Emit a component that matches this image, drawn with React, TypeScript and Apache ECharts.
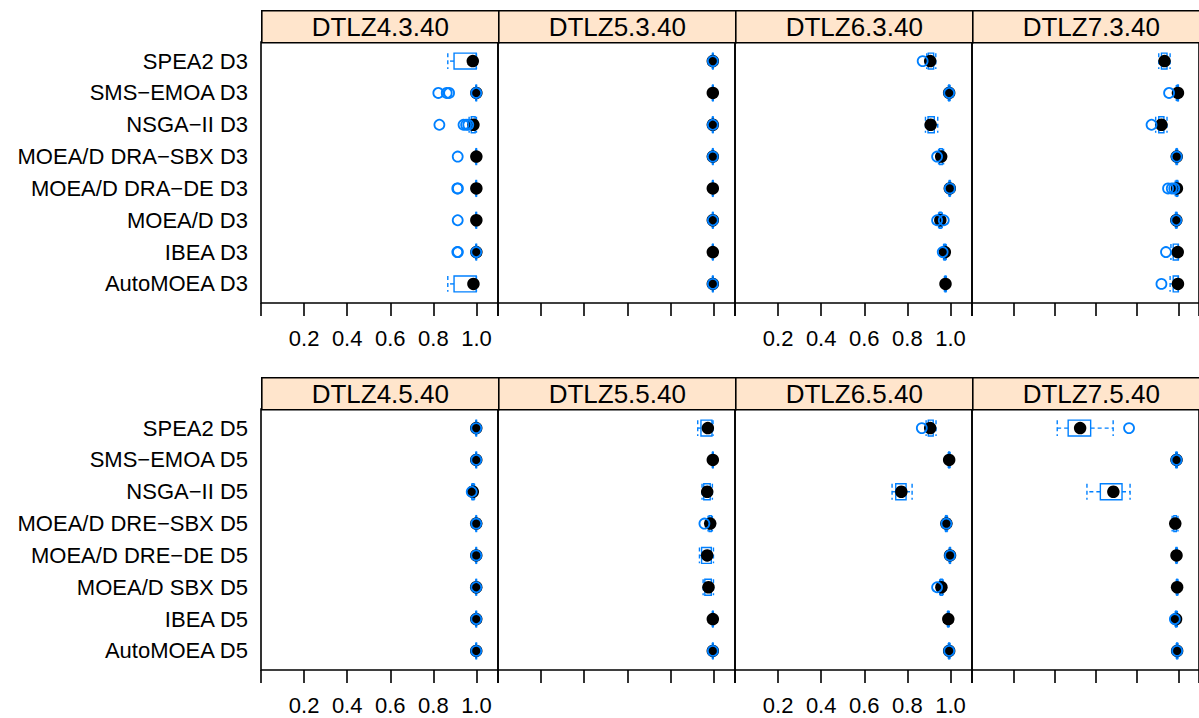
import React, { useEffect, useRef } from "react";
import * as echarts from "echarts";

// ---------- DATA ----------
const algorithmsD3 = [
  "SPEA2 D3",
  "SMS−EMOA D3",
  "NSGA−II D3",
  "MOEA/D DRA−SBX D3",
  "MOEA/D DRA−DE D3",
  "MOEA/D D3",
  "IBEA D3",
  "AutoMOEA D3",
];
const algorithmsD5 = [
  "SPEA2 D5",
  "SMS−EMOA D5",
  "NSGA−II D5",
  "MOEA/D DRE−SBX D5",
  "MOEA/D DRE−DE D5",
  "MOEA/D SBX D5",
  "IBEA D5",
  "AutoMOEA D5",
];
const problemsTop = ["DTLZ4.3.40", "DTLZ5.3.40", "DTLZ6.3.40", "DTLZ7.3.40"];
const problemsBottom = ["DTLZ4.5.40", "DTLZ5.5.40", "DTLZ6.5.40", "DTLZ7.5.40"];
const xTickValues = [0, 0.2, 0.4, 0.6, 0.8, 1.0, 1.1];
const xTickLabels = [0.2, 0.4, 0.6, 0.8, 1.0];

// stats rows: [lower whisker, Q1, median, Q3, upper whisker]
const dtlz4_3_stats = [
  [0.867, 0.896, 0.983, 0.999, 1.0],
  [0.997, 0.998, 0.9995, 1.0, 1.0],
  [0.966, 0.976, 0.986, 0.994, 1.0],
  [0.997, 0.998, 0.9995, 1.0, 1.0],
  [0.997, 0.998, 0.9995, 1.0, 1.0],
  [0.997, 0.998, 0.9995, 1.0, 1.0],
  [0.997, 0.998, 0.9995, 1.0, 1.0],
  [0.867, 0.896, 0.986, 0.999, 1.0],
];
const dtlz4_3_out = [[], [0.823, 0.862, 0.873, 0.999], [0.828, 0.94, 0.952, 0.962], [0.913], [0.911, 0.914], [0.913], [0.911, 0.914, 0.999], []];

const dtlz5_3_stats = [
  [0.995, 0.996, 0.997, 0.998, 0.999],
  [0.995, 0.996, 0.997, 0.998, 0.999],
  [0.995, 0.996, 0.997, 0.998, 0.999],
  [0.995, 0.996, 0.997, 0.998, 0.999],
  [0.995, 0.996, 0.997, 0.998, 0.999],
  [0.995, 0.996, 0.997, 0.998, 0.999],
  [0.995, 0.996, 0.997, 0.998, 0.999],
  [0.995, 0.996, 0.997, 0.998, 0.999],
];
const dtlz5_3_out = [[0.997], [], [0.997], [0.997], [], [0.997], [], [0.997]];

const dtlz6_3_stats = [
  [0.89, 0.897, 0.906, 0.922, 0.932],
  [0.99, 0.992, 0.994, 0.996, 0.998],
  [0.884, 0.896, 0.908, 0.925, 0.941],
  [0.945, 0.95, 0.957, 0.962, 0.968],
  [0.993, 0.995, 0.997, 0.998, 1.0],
  [0.945, 0.949, 0.953, 0.957, 0.962],
  [0.968, 0.97, 0.974, 0.977, 0.98],
  [0.972, 0.975, 0.977, 0.979, 0.981],
];
const dtlz6_3_out = [[0.871], [0.994], [], [0.938], [0.997], [0.938, 0.969], [0.964], []];

const dtlz7_3_stats = [
  [0.905, 0.918, 0.933, 0.945, 0.96],
  [0.99, 0.995, 0.998, 1.0, 1.0],
  [0.89, 0.905, 0.918, 0.93, 0.945],
  [0.988, 0.99, 0.992, 0.994, 0.996],
  [0.985, 0.99, 0.993, 0.996, 0.998],
  [0.986, 0.988, 0.99, 0.992, 0.994],
  [0.964, 0.975, 0.997, 1.0, 1.0],
  [0.96, 0.975, 0.998, 1.0, 1.0],
];
const dtlz7_3_out = [[], [0.955], [0.87], [0.992], [0.95, 0.968, 0.98], [0.99], [0.94], [0.918]];

const dtlz4_5_stats = [
  [0.997, 0.998, 0.999, 1.0, 1.0],
  [0.997, 0.998, 0.999, 1.0, 1.0],
  [0.978, 0.98, 0.983, 0.988, 0.991],
  [0.997, 0.998, 0.999, 1.0, 1.0],
  [0.997, 0.998, 0.999, 1.0, 1.0],
  [0.997, 0.998, 0.999, 1.0, 1.0],
  [0.997, 0.998, 0.999, 1.0, 1.0],
  [0.997, 0.998, 0.999, 1.0, 1.0],
];
const dtlz4_5_out = [[0.999], [0.999], [0.978], [0.999], [0.999], [0.999], [0.999], [0.999]];

const dtlz5_5_stats = [
  [0.927, 0.942, 0.974, 0.993, 0.998],
  [0.995, 0.996, 0.997, 0.998, 0.999],
  [0.947, 0.955, 0.971, 0.985, 0.995],
  [0.975, 0.98, 0.985, 0.99, 0.995],
  [0.935, 0.945, 0.971, 0.99, 1.0],
  [0.952, 0.96, 0.977, 0.99, 1.0],
  [0.995, 0.996, 0.997, 0.998, 0.999],
  [0.995, 0.996, 0.997, 0.998, 0.999],
];
const dtlz5_5_out = [[], [], [], [0.958], [], [], [], [0.997]];

const dtlz6_5_stats = [
  [0.887, 0.897, 0.906, 0.92, 0.933],
  [0.99, 0.992, 0.994, 0.996, 0.998],
  [0.729, 0.746, 0.772, 0.794, 0.822],
  [0.976, 0.978, 0.981, 0.984, 0.986],
  [0.994, 0.996, 0.998, 1.0, 1.0],
  [0.95, 0.954, 0.958, 0.962, 0.966],
  [0.986, 0.988, 0.99, 0.992, 0.994],
  [0.99, 0.992, 0.994, 0.996, 0.998],
];
const dtlz6_5_out = [[0.867], [], [], [0.981], [0.998], [0.938], [], [0.994]];

const dtlz7_5_stats = [
  [0.413, 0.466, 0.524, 0.575, 0.684],
  [0.987, 0.989, 0.991, 0.993, 0.995],
  [0.557, 0.622, 0.685, 0.727, 0.766],
  [0.97, 0.978, 0.985, 0.99, 0.998],
  [0.987, 0.989, 0.991, 0.993, 0.995],
  [0.99, 0.992, 0.994, 0.996, 0.998],
  [0.985, 0.987, 0.989, 0.992, 0.995],
  [0.99, 0.992, 0.994, 0.996, 0.998],
];
const dtlz7_5_out = [[0.761], [0.991], [], [], [], [], [0.983], [0.994]];

// ---------- LAYOUT ----------
const W = 1199;
const H = 718;
const panelLefts = [261, 498, 735, 972];
const panelWidth = 237;
const rowStripTops = [10, 377];
const stripHeight = 32;
const rowPanelTops = [42, 409];
const panelHeight = 261;
const BLUE = "#0080ff";
const FONT = "'Liberation Sans', Arial, Helvetica, sans-serif";

const panels = [
  { title: problemsTop[0], names: algorithmsD3, stats: dtlz4_3_stats, out: dtlz4_3_out },
  { title: problemsTop[1], names: algorithmsD3, stats: dtlz5_3_stats, out: dtlz5_3_out },
  { title: problemsTop[2], names: algorithmsD3, stats: dtlz6_3_stats, out: dtlz6_3_out },
  { title: problemsTop[3], names: algorithmsD3, stats: dtlz7_3_stats, out: dtlz7_3_out },
  { title: problemsBottom[0], names: algorithmsD5, stats: dtlz4_5_stats, out: dtlz4_5_out },
  { title: problemsBottom[1], names: algorithmsD5, stats: dtlz5_5_stats, out: dtlz5_5_out },
  { title: problemsBottom[2], names: algorithmsD5, stats: dtlz6_5_stats, out: dtlz6_5_out },
  { title: problemsBottom[3], names: algorithmsD5, stats: dtlz7_5_stats, out: dtlz7_5_out },
];

function renderBox(params: any, api: any) {
  const y = api.value(5);
  const lo = api.coord([api.value(0), y]);
  const q1 = api.coord([api.value(1), y]);
  const q3 = api.coord([api.value(3), y]);
  const hi = api.coord([api.value(4), y]);
  const band = Math.abs(api.size([0, 1])[1]);
  const h = band * 0.5;
  const cy = q1[1];
  const dash = { stroke: BLUE, lineWidth: 1.4, lineDash: [4, 3], fill: "none" };
  return {
    type: "group",
    children: [
      { type: "line", shape: { x1: q1[0], y1: cy, x2: lo[0], y2: cy }, style: dash },
      { type: "line", shape: { x1: q3[0], y1: cy, x2: hi[0], y2: cy }, style: dash },
      { type: "line", shape: { x1: lo[0], y1: cy - h / 2, x2: lo[0], y2: cy + h / 2 }, style: dash },
      { type: "line", shape: { x1: hi[0], y1: cy - h / 2, x2: hi[0], y2: cy + h / 2 }, style: dash },
      {
        type: "rect",
        shape: { x: q1[0], y: cy - h / 2, width: Math.max(q3[0] - q1[0], 0.5), height: h },
        style: { fill: "none", stroke: BLUE, lineWidth: 1.4 },
      },
    ],
  };
}

function buildOption() {
  const grid: any[] = [];
  const xAxis: any[] = [];
  const yAxis: any[] = [];
  const series: any[] = [];
  const graphic: any[] = [];

  panels.forEach((p, idx) => {
    const row = Math.floor(idx / 4);
    const col = idx % 4;
    const left = panelLefts[col];
    grid.push({
      left,
      top: rowPanelTops[row],
      width: panelWidth,
      height: panelHeight,
      show: true,
      borderColor: "#000",
      borderWidth: 1.6,
      backgroundColor: "transparent",
      containLabel: false,
    });
    const showX = col === 0 || col === 2;
    xAxis.push({
      type: "value",
      gridIndex: idx,
      min: 0,
      max: 1.1,
      axisLine: { show: false },
      axisTick: {
        show: true,
        length: 13,
        inside: false,
        customValues: xTickValues,
        lineStyle: { color: "#000", width: 1.6 },
      },
      axisLabel: {
        show: showX,
        customValues: xTickLabels,
        formatter: (v: number) => v.toFixed(1),
        fontSize: 22,
        fontFamily: FONT,
        color: "#000",
        margin: 24,
      },
      splitLine: { show: false },
    });
    const names = p.names;
    yAxis.push({
      type: "value",
      gridIndex: idx,
      min: 0.4,
      max: 8.6,
      inverse: true,
      axisLine: { show: false },
      axisTick: { show: false },
      splitLine: { show: false },
      axisLabel: {
        show: col === 0,
        customValues: [1, 2, 3, 4, 5, 6, 7, 8],
        formatter: (v: number) => names[Math.round(v) - 1] || "",
        fontSize: 22,
        fontFamily: FONT,
        color: "#000",
        margin: 13,
      },
    });

    const boxData = p.stats.map((s, i) => [...s, i + 1]);
    const medData = p.stats.map((s, i) => [s[2], i + 1]);
    const outData: number[][] = [];
    p.out.forEach((o, i) => o.forEach((v) => outData.push([v, i + 1])));

    series.push({
      type: "custom",
      xAxisIndex: idx,
      yAxisIndex: idx,
      renderItem: renderBox,
      encode: { x: [0, 1, 2, 3, 4], y: 5 },
      data: boxData,
      z: 2,
      silent: true,
    });
    series.push({
      type: "scatter",
      xAxisIndex: idx,
      yAxisIndex: idx,
      symbol: "circle",
      symbolSize: 12.5,
      itemStyle: { color: "#000", opacity: 1 },
      data: medData,
      z: 3,
      silent: true,
    });
    series.push({
      type: "scatter",
      xAxisIndex: idx,
      yAxisIndex: idx,
      symbol: "circle",
      symbolSize: 10,
      itemStyle: { color: "rgba(0,0,0,0)", borderColor: BLUE, borderWidth: 1.8, opacity: 1 },
      data: outData,
      z: 4,
      silent: true,
    });

    graphic.push({
      type: "group",
      left: left,
      top: rowStripTops[row],
      children: [
        {
          type: "rect",
          shape: { x: 0, y: 0, width: panelWidth, height: stripHeight },
          style: { fill: "#ffe5cc", stroke: "#000", lineWidth: 1.6 },
        },
        {
          type: "text",
          x: panelWidth / 2,
          y: stripHeight / 2,
          style: {
            text: p.title,
            fontSize: 26,
            fontFamily: FONT,
            fill: "#000",
            align: "center",
            verticalAlign: "middle",
          },
        },
      ],
    });
  });

  return {
    animation: false,
    backgroundColor: "#fff",
    grid,
    xAxis,
    yAxis,
    series,
    graphic,
  };
}

export default function App() {
  const ref = useRef<HTMLDivElement>(null);
  useEffect(() => {
    if (!ref.current) return;
    const chart = echarts.init(ref.current, null, { renderer: "svg" });
    chart.setOption(buildOption() as any);
    return () => chart.dispose();
  }, []);
  return (
    <div
      ref={ref}
      style={{ position: "absolute", left: 0, top: 0, width: W, height: H, overflow: "hidden" }}
    />
  );
}
